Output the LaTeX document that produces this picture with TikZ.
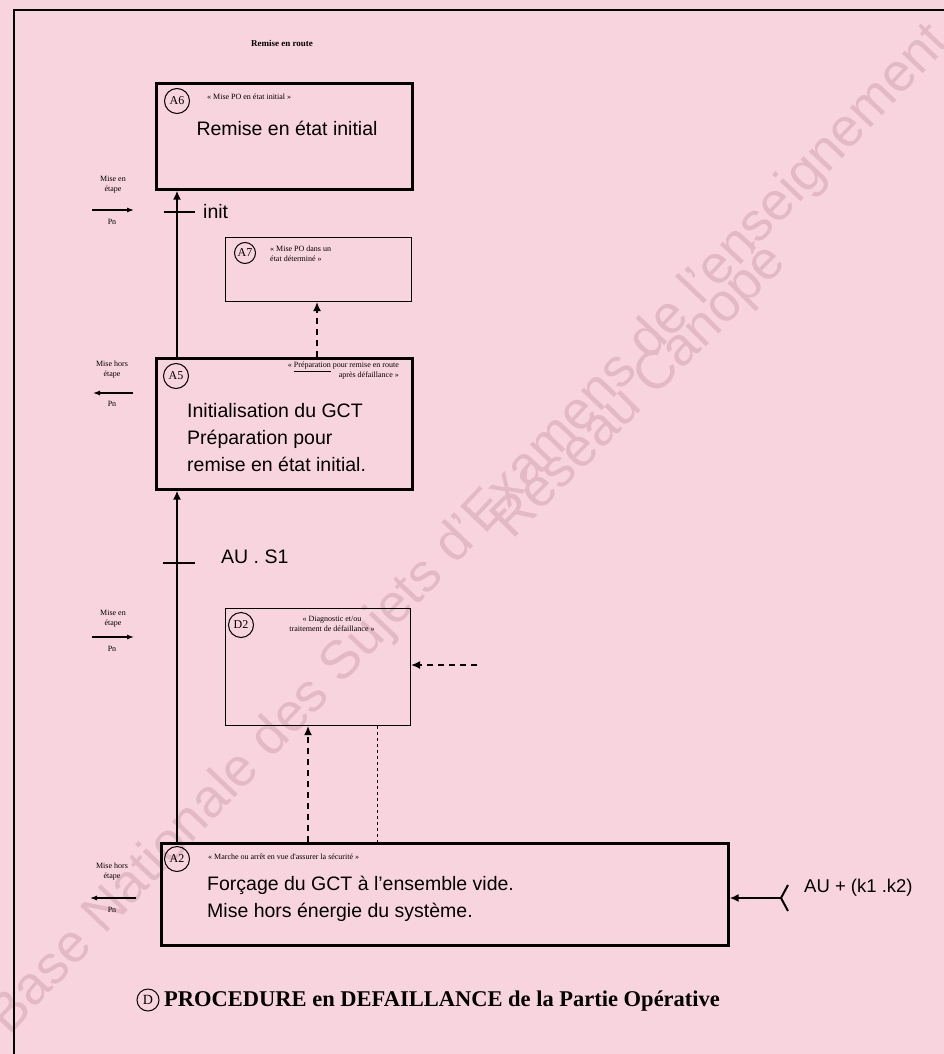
\documentclass[tikz,border=0pt]{standalone}
\usepackage{fontspec}
\setmainfont{Liberation Sans}
\newfontfamily\serifx{Liberation Serif}
\usetikzlibrary{arrows.meta}
\definecolor{bgpink}{HTML}{F8D5DE}
\definecolor{wmark}{HTML}{E3B9C5}
\begin{document}
\begin{tikzpicture}[x=1pt,y=-1pt,
  box/.style={draw, line width=2.6pt, inner sep=0pt, anchor=north west},
  thinbox/.style={draw, line width=1.1pt, inner sep=0pt, anchor=north west},
  tag/.style={circle, draw, line width=1pt, inner sep=0pt, minimum size=25pt, font=\serifx\fontsize{12}{12}\selectfont},
  tiny/.style={font=\serifx\fontsize{8}{10}\selectfont, inner sep=0pt},
  big/.style={font=\fontsize{19.5}{27}\selectfont, inner sep=0pt},
  spine/.style={line width=2.6pt},
  tip/.style={-{Latex[length=9pt,width=8pt]}},
  smalltip/.style={-{Latex[length=7pt,width=5pt]}},
  bar/.style={line width=2.6pt},
  dashline/.style={dash pattern=on 6pt off 5pt, line width=1.4pt},
  wm/.style={text=wmark, font=\fontsize{54}{54}\selectfont, inner sep=0pt}
]
\fill[bgpink] (0,0) rectangle (944,1054);
\useasboundingbox (0,0) rectangle (944,1054);

% watermark
\node[wm, rotate=46.5] (wm1) at (470,530) {Base Nationale des Sujets d'Examens de l'enseignement};
\node[wm, rotate=45] (wm2) at (640,392) {Réseau Canopé};

% frame
\draw[line width=1.2pt] (14,1054) -- (14,10) -- (944,10);

% title
\node[font=\serifx\bfseries\fontsize{9}{9}\selectfont] (top) at (282,43) {Remise en route};

% boxes
\node[box, minimum width=256pt, minimum height=106pt] (A6) at (155,82) {};
\node[thinbox, minimum width=186pt, minimum height=64pt] (A7) at (225,237) {};
\node[box, minimum width=256pt, minimum height=131pt] (A5) at (155,357) {};
\node[thinbox, minimum width=185pt, minimum height=117pt] (D2) at (225,608) {};
\node[box, minimum width=567pt, minimum height=102pt] (A2) at (160,842) {};

% tags
\node[tag] (tA6) at (177,101) {A6};
\node[tag, minimum size=21pt] (tA7) at (245,253) {A7};
\node[tag] (tA5) at (176,376) {A5};
\node[tag] (tD2) at (241,625) {D2};
\node[tag] (tA2) at (177,859) {A2};

% subtitles
\node[tiny, anchor=west] (sA6) at (207,97) {« Mise PO en état initial »};
\node[tiny, align=left, anchor=north west] (sA7) at (270,246) {« Mise PO dans un\\ état déterminé »};
\node[tiny, align=right, anchor=north east] (sA5) at (399,362) {« \underline{Préparation} pour remise en route\\ après défaillance »};
\node[tiny, align=center, anchor=north] (sD2) at (332,616) {« Diagnostic et/ou\\ traitement de défaillance »};
\node[tiny, anchor=west] (sA2) at (208,857) {« Marche ou arrêt en vue d'assurer la sécurité »};

% main texts
\node[big] (mA6) at (287,128) {Remise en état initial};
\node[big, align=left, anchor=north west] (mA5) at (187,403) {Initialisation du GCT\\Préparation pour\\remise en état initial.};
\node[big, align=left, anchor=north west] (mA2) at (207,876) {Forçage du GCT à l'ensemble vide.\\Mise hors énergie du système.};

% spine
\coordinate (sp) at (177,0);
\draw[spine, tip] (A2.north -| sp) -- (A5.south -| sp);
\draw[spine, tip] (A5.north -| sp) -- (A6.south -| sp);

% transitions
\coordinate (t1) at (177,212);
\draw[bar] ([xshift=-13pt]t1) -- ([xshift=18pt]t1);
\node[big, anchor=west] (init) at (203,212) {init};
\coordinate (t2) at (177,563);
\draw[bar] ([xshift=-14pt]t2) -- ([xshift=18pt]t2);
\node[big, anchor=west] (aus1) at (221,557) {AU . S1};

% dashed links
\coordinate (d7) at (317,0);
\draw[dashline, tip] (A5.north -| d7) -- (A7.south -| d7);
\coordinate (dR) at (477,665);
\draw[dashline, tip] (dR) -- (D2.east |- dR);
\coordinate (d2a) at (308,0);
\draw[dashline, tip] (A2.north -| d2a) -- (D2.south -| d2a);
\coordinate (d2b) at (377,0);
\draw[dashed, line width=0.8pt] (D2.south -| d2b) -- (A2.north -| d2b);

% input to A2
\coordinate (inp) at (781,898);
\draw[line width=2pt, tip] (inp) -- (A2.east |- inp);
\draw[line width=2pt] (inp) -- ++(7,-13) (inp) -- ++(7,13);
\node[big, font=\fontsize{18.5}{20}\selectfont, anchor=west] (au) at (804,888) {AU + (k1 .k2)};

% left labels
\node[tiny, align=center] (l1) at (113,185) {Mise en\\étape};
\coordinate (l1a) at (92,210); \coordinate (l1b) at (134,210);
\draw[line width=1.2pt, smalltip] (l1a) -- (l1b);
\node[tiny] (l1p) at (112,222) {Pn};

\node[tiny, align=center] (l2) at (112,370) {Mise hors\\étape};
\coordinate (l2a) at (133,393); \coordinate (l2b) at (93,393);
\draw[line width=1.2pt, smalltip] (l2a) -- (l2b);
\node[tiny] (l2p) at (112,404) {Pn};

\node[tiny, align=center] (l3) at (113,619) {Mise en\\étape};
\coordinate (l3a) at (92,637); \coordinate (l3b) at (134,637);
\draw[line width=1.2pt, smalltip] (l3a) -- (l3b);
\node[tiny] (l3p) at (112,649) {Pn};

\node[tiny, align=center] (l4) at (112,872) {Mise hors\\étape};
\coordinate (l4a) at (136,898); \coordinate (l4b) at (90,898);
\draw[line width=1.2pt, smalltip] (l4a) -- (l4b);
\node[tiny] (l4p) at (112,910) {Pn};

% bottom title
\node[circle, draw, line width=1pt, inner sep=0pt, minimum size=22pt, font=\serifx\fontsize{14}{14}\selectfont] (dtag) at (148,1000) {D};
\node[font=\serifx\bfseries\fontsize{22.5}{22.5}\selectfont, anchor=west, inner sep=0pt] (title) at (164,1001) {PROCEDURE en DEFAILLANCE de la Partie Opérative};
\end{tikzpicture}
\end{document}
